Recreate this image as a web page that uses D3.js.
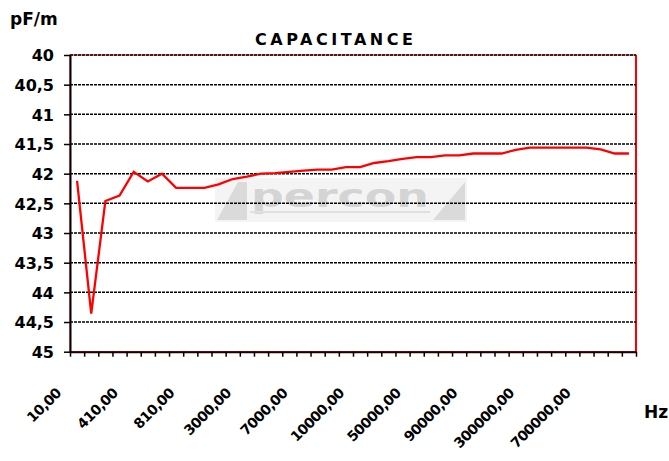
<!DOCTYPE html>
<html>
<head>
<meta charset="utf-8">
<script src="https://cdn.jsdelivr.net/npm/d3@7"></script>
<style>
  html, body { margin: 0; padding: 0; background: #ffffff; }
  svg { display: block; }
  text { font-family: "DejaVu Sans", Arial, sans-serif; font-weight: bold; fill: #000; }
</style>
</head>
<body>
<svg id="chart" width="669" height="461"></svg>
<script>
const categories = [
  "10,00","110,00","210,00","310,00","410,00","510,00","610,00","710,00","810,00","910,00",
  "1000,00","2000,00","3000,00","4000,00","5000,00","6000,00","7000,00","8000,00","9000,00","9500,00",
  "10000,00","20000,00","30000,00","40000,00","50000,00","60000,00","70000,00","80000,00","90000,00","100000,00",
  "150000,00","200000,00","300000,00","400000,00","500000,00","600000,00","700000,00","800000,00","900000,00","1000000,00"
];
const capacitance = [
  42.12, 44.36, 42.46, 42.37, 41.97, 42.13, 42.00, 42.24, 42.24, 42.24,
  42.18, 42.09, 42.05, 42.00, 41.99, 41.97, 41.95, 41.93, 41.93, 41.89,
  41.89, 41.82, 41.79, 41.75, 41.72, 41.72, 41.69, 41.69, 41.66, 41.66,
  41.66, 41.60, 41.56, 41.56, 41.56, 41.56, 41.56, 41.59, 41.66, 41.66
];
const yTicks = [40, 40.5, 41, 41.5, 42, 42.5, 43, 43.5, 44, 44.5, 45];
const yTickLabels = ["40","40,5","41","41,5","42","42,5","43","43,5","44","44,5","45"];
const labelEvery = 4;
const title = "CAPACITANCE";
const yUnit = "pF/m";
const xUnit = "Hz";

const svg = d3.select("#chart");
const pLeft = 70, pRight = 636, pTop = 55, pBottom = 351.7;

const x = d3.scaleBand().domain(categories).range([pLeft, pRight]).padding(0);
const xEdge = d3.scaleLinear().domain([0, categories.length]).range([pLeft, pRight]);
const y = d3.scaleLinear().domain([40, 45]).range([pTop, pBottom]);

// watermark logo
const wm = svg.append("g").attr("class", "watermark");
wm.append("rect").attr("x", 215).attr("y", 178).attr("width", 252).attr("height", 44).attr("fill", "#f4f4f4");
wm.append("polygon").attr("points", "217,220 238,182 247,182 247,220").attr("fill", "#dadada");
wm.append("polygon").attr("points", "433,220 465,220 465,182").attr("fill", "#dadada");
wm.append("text").attr("x", 340).attr("y", 207).attr("text-anchor", "middle")
  .style("font-family", "'DejaVu Sans', sans-serif").style("font-size", "32px").style("font-weight", "bold")
  .style("fill", "#d4d4d4").attr("textLength", 178).attr("lengthAdjust", "spacingAndGlyphs").text("percon");
wm.append("rect").attr("x", 250).attr("y", 211).attr("width", 180).attr("height", 2).attr("fill", "#e0e0e0");

// plot border (red)
svg.append("rect").attr("x", pLeft).attr("y", pTop).attr("width", pRight - pLeft).attr("height", pBottom - pTop)
  .attr("fill", "none").attr("stroke", "#ff0000").attr("stroke-width", 1);
svg.append("line").attr("x1", pRight).attr("x2", pRight).attr("y1", pTop).attr("y2", pBottom)
  .attr("stroke", "#ff0000").attr("stroke-width", 2);

// gridlines
svg.append("g").selectAll("line").data(yTicks.filter(d => d < 45)).join("line")
  .attr("x1", pLeft).attr("x2", pRight)
  .attr("y1", d => y(d)).attr("y2", d => y(d))
  .attr("stroke", "#000").attr("stroke-width", 1.5).attr("stroke-dasharray", "3,1");

// y axis
const yAxis = d3.axisLeft(y).tickValues(yTicks).tickSize(6).tickSizeOuter(0)
  .tickFormat((d, i) => yTickLabels[i]);
const gy = svg.append("g").attr("transform", `translate(${pLeft},0)`).call(yAxis);
gy.select(".domain").attr("stroke", "#000").attr("stroke-width", 2);
gy.selectAll(".tick line").attr("stroke", "#000").attr("stroke-width", 1.5);
gy.selectAll(".tick text").attr("x", -16).attr("dy", "0.36em")
  .style("font-size", "16px").style("font-family", "'DejaVu Sans', sans-serif").style("font-weight", "bold");

// x axis (ticks at category edges)
const xAxis = d3.axisBottom(xEdge).tickValues(d3.range(categories.length + 1)).tickSize(5).tickSizeOuter(0).tickFormat("");
const gx = svg.append("g").attr("transform", `translate(0,${pBottom})`).call(xAxis);
gx.select(".domain").attr("stroke", "#200000").attr("stroke-width", 2);
gx.selectAll(".tick line").attr("stroke", "#000").attr("stroke-width", 1.5);

// x labels
svg.append("g").selectAll("text").data(categories.filter((d, i) => i % labelEvery === 0)).join("text")
  .attr("text-anchor", "end")
  .attr("transform", d => `translate(${x(d) + x.bandwidth() / 2 - 15},${394}) rotate(-45)`)
  .style("font-size", "14px").style("letter-spacing", "-0.6px")
  .text(d => d);

// line
const line = d3.line().x((d, i) => x(categories[i]) + x.bandwidth() / 2).y(d => y(d));
svg.append("path").datum(capacitance).attr("d", line)
  .attr("fill", "none").attr("stroke", "#ff0000").attr("stroke-width", 2.3).attr("stroke-linejoin", "miter");

// texts
svg.append("text").attr("x", 334).attr("y", 45).attr("text-anchor", "middle")
  .style("font-size", "16px").attr("textLength", 158).attr("lengthAdjust", "spacing").text(title);
svg.append("text").attr("x", 10).attr("y", 25).style("font-size", "17px").text(yUnit);
svg.append("text").attr("x", 644).attr("y", 418).style("font-size", "17px").text(xUnit);
</script>
</body>
</html>
